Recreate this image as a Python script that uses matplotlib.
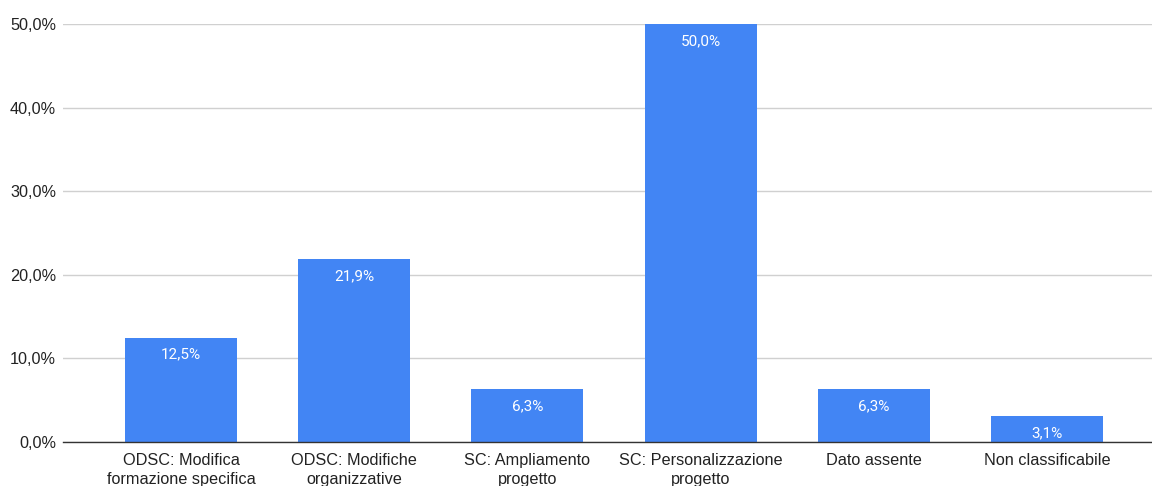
import matplotlib.pyplot as plt
from matplotlib.ticker import FuncFormatter

plt.rcParams['font.family'] = ['Liberation Sans', 'DejaVu Sans']

categories = ['ODSC: Modifica\nformazione specifica', 'ODSC: Modifiche\norganizzative',
              'SC: Ampliamento\nprogetto', 'SC: Personalizzazione\nprogetto',
              'Dato assente', 'Non classificabile']
values = [12.5, 21.9, 6.3, 50.0, 6.3, 3.1]
labels = ['12,5%', '21,9%', '6,3%', '50,0%', '6,3%', '3,1%']

fig = plt.figure(figsize=(11.52, 4.86), dpi=100)
ax = fig.add_axes([63 / 1152, 1 - 442 / 486, 1 - 63 / 1152, (442 - 24) / 486])

x = list(range(len(categories)))
bars = ax.bar(x, values, width=0.647, color='#4285F4', zorder=3)

for xi, v, lab in zip(x, values, labels):
    ax.annotate(lab, (xi, v), xytext=(0, -17), textcoords='offset pixels',
                ha='center', va='center', color='white', fontsize=11,
                family=['Roboto', 'DejaVu Sans'], zorder=4)

ax.set_xlim(-0.681, 5.606)
ax.set_ylim(0, 50)
ax.set_yticks([0, 10, 20, 30, 40, 50])
ax.yaxis.set_major_formatter(FuncFormatter(lambda v, p: f'{v:.1f}%'.replace('.', ',')))
ax.set_xticks(x)
ax.set_xticklabels(categories, fontsize=11.7, color='#222222', linespacing=1.3)
ax.tick_params(axis='y', labelsize=11.7, labelcolor='#222222', length=0, pad=5)
ax.tick_params(axis='x', length=0, pad=8)

ax.grid(axis='y', color='#d0d0d0', linewidth=1, zorder=0)
for s in ['top', 'right', 'left']:
    ax.spines[s].set_visible(False)
ax.spines['bottom'].set_color('#333333')
ax.spines['bottom'].set_linewidth(1)
ax.spines['bottom'].set_zorder(5)

fig.savefig('out.png', dpi=100)
